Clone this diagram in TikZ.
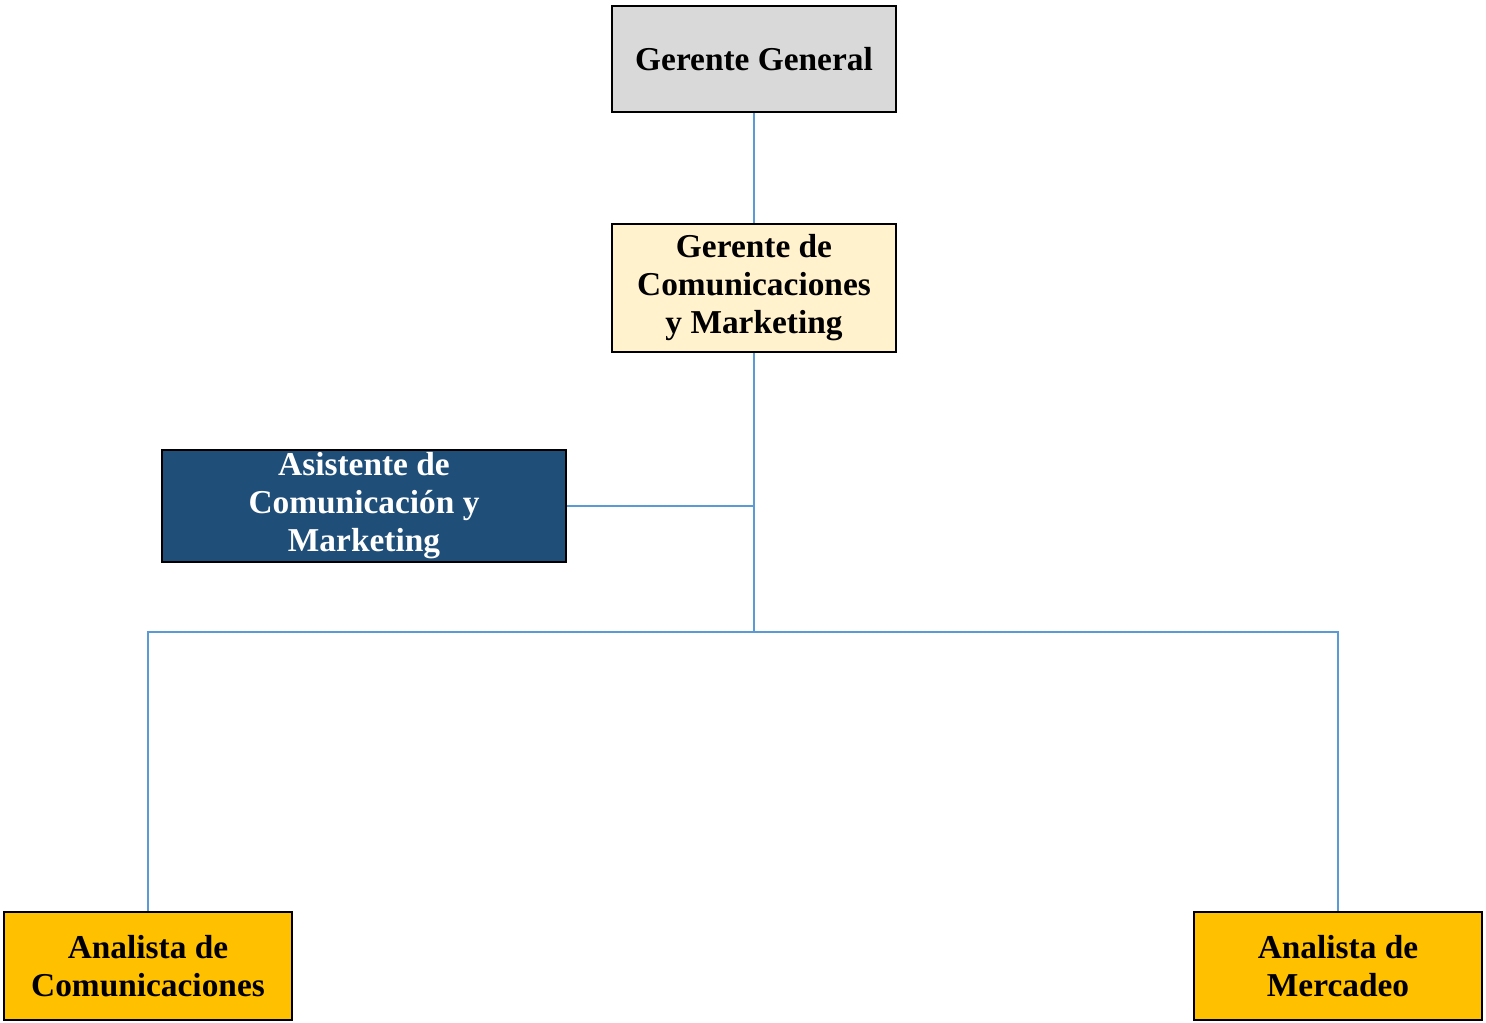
\documentclass[tikz,border=0pt]{standalone}
\usepackage{fontspec}
\setmainfont{Liberation Serif}
\usepackage{tikz}
\definecolor{gerenteGray}{RGB}{217, 217, 217}
\definecolor{gerenteCream}{RGB}{255, 242, 204}
\definecolor{asistenteBlue}{RGB}{31, 78, 121}
\definecolor{analistaGold}{RGB}{255, 192, 0}
\definecolor{linkBlue}{RGB}{91, 155, 213}
\usetikzlibrary{positioning}

\begin{document}
\begin{tikzpicture}[
    x=0.02cm, y=-0.02cm,
    cargo/.style={
        rectangle,
        draw=black,
        line width=1.1pt,
        inner sep=0pt,
        align=center,
        font=\bfseries\fontsize{19}{21.6}\selectfont
    },
    enlace/.style={draw=linkBlue, line width=0.85pt}
]
    \useasboundingbox (0,0) rectangle (1486,1023);

    \node[cargo, fill=gerenteGray, minimum width=5.68cm, minimum height=2.12cm]
        (general) at (754,59) {Gerente General};
    \node[cargo, fill=gerenteCream, minimum width=5.68cm, minimum height=2.56cm]
        (gerente) at (754,288) {Gerente de\\Comunicaciones\\y Marketing};
    \node[cargo, fill=asistenteBlue, text=white, minimum width=8.08cm, minimum height=2.24cm]
        (asistente) at (364,506) {Asistente de\\Comunicación y\\Marketing};
    \node[cargo, fill=analistaGold, minimum width=5.76cm, minimum height=2.16cm]
        (comunic) at (148,966) {Analista de\\Comunicaciones};
    \node[cargo, fill=analistaGold, minimum width=5.76cm, minimum height=2.16cm]
        (mercadeo) at (1338,966) {Analista de\\Mercadeo};

    \coordinate (rama) at (754,632);

    \draw[enlace] (general) -- (gerente);
    \draw[enlace] (gerente) -- (rama);
    \draw[enlace] (asistente.east) -- (asistente.east -| rama);
    \draw[enlace] (comunic.north) |- (rama) -| (mercadeo.north);
\end{tikzpicture}
\end{document}
